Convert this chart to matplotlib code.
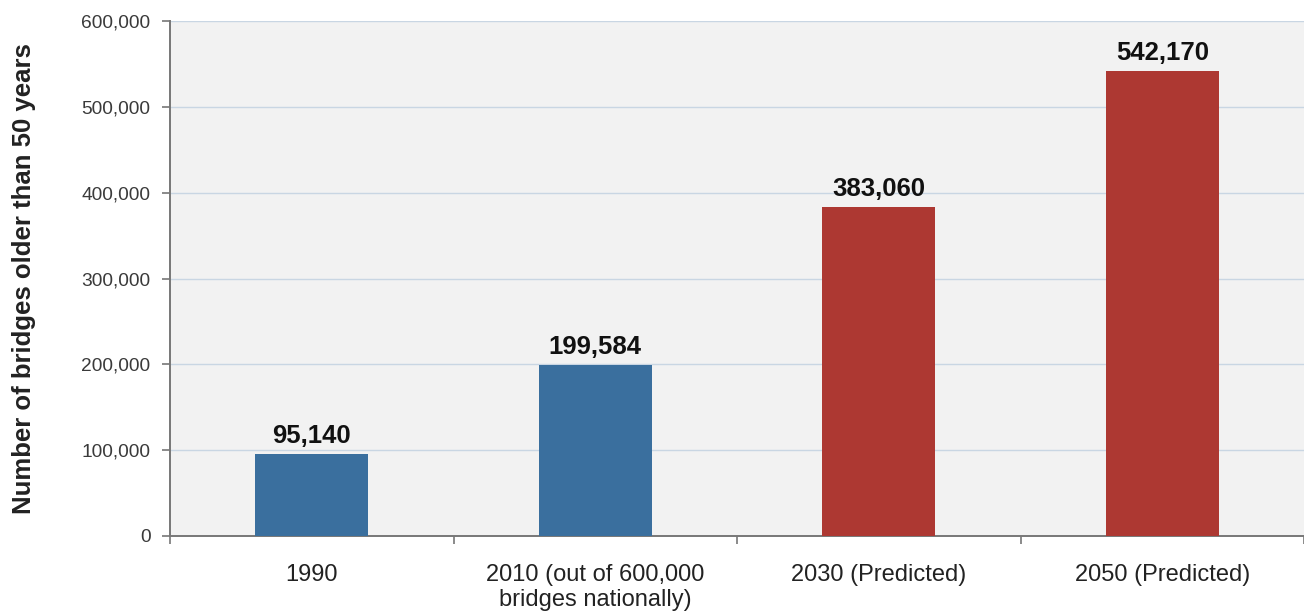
import matplotlib
matplotlib.use("Agg")
import matplotlib.pyplot as plt
from matplotlib.ticker import FuncFormatter, MultipleLocator

categories = ["1990", "2010 (out of 600,000\nbridges nationally)", "2030 (Predicted)", "2050 (Predicted)"]
values = [95140, 199584, 383060, 542170]
colors = ["#3a6f9e", "#3a6f9e", "#ad3832", "#ad3832"]
ylabel = "Number of bridges older than 50 years"

plt.rcParams['font.family'] = ['Liberation Sans', 'DejaVu Sans']

fig = plt.figure(figsize=(13.04, 6.12), dpi=100)
fig.patch.set_facecolor("white")
ax = fig.add_axes([170/1304, 76/612, 1134/1304, 515/612])
ax.set_facecolor("#f2f2f2")

x = list(range(len(categories)))
bars = ax.bar(x, values, width=0.4, color=colors, zorder=3)
for xi, v in zip(x, values):
    ax.text(xi, v + 7000, f"{v:,}", ha="center", va="bottom", fontsize=18.5,
            fontweight="bold", color="#111111", zorder=4)

ax.set_xlim(-0.5, len(categories) - 0.5)
ax.set_ylim(0, 600000)
ax.yaxis.set_major_locator(MultipleLocator(100000))
ax.yaxis.set_major_formatter(FuncFormatter(lambda v, p: f"{int(v):,}"))
ax.grid(axis="y", color="#c9d6e3", linewidth=1.0, zorder=0)

ax.set_xticks(x)
ax.set_xticklabels(categories, fontsize=17, color="#222222", linespacing=1.2)
ax.set_xticks([i - 0.5 for i in range(len(categories) + 1)], minor=True)
ax.tick_params(axis="x", which="major", length=0, pad=20)
ax.tick_params(axis="x", which="minor", length=6, color="#777777", width=1.2)
ax.tick_params(axis="y", length=6, color="#777777", width=1.2, labelsize=13.8,
               labelcolor="#3a3a3a", pad=8)

for s in ["top", "right"]:
    ax.spines[s].set_visible(False)
for s in ["left", "bottom"]:
    ax.spines[s].set_color("#777777")
    ax.spines[s].set_linewidth(1.4)

ax.set_ylabel(ylabel, fontsize=18.5, fontweight="bold", color="#222222", labelpad=33)

fig.savefig("out.png", dpi=100)
